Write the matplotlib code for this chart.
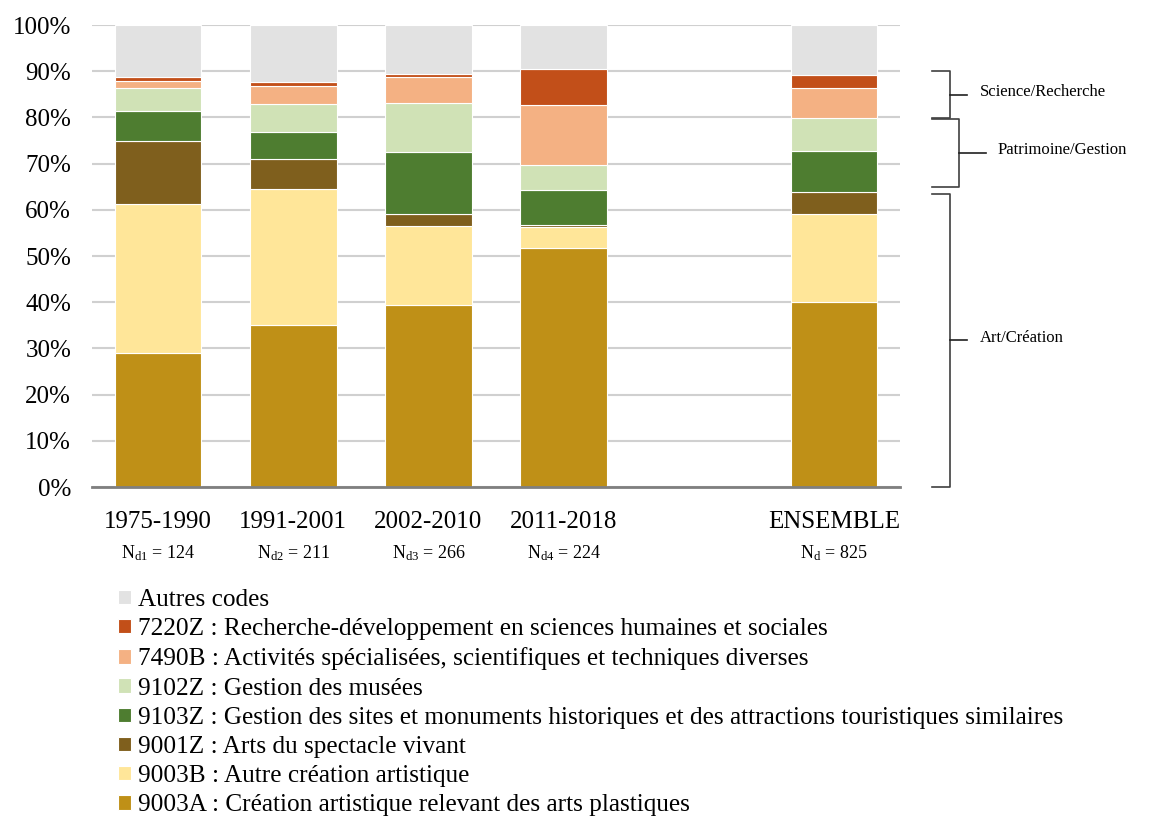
import matplotlib.pyplot as plt
import matplotlib.transforms as mtransforms
import numpy as np

plt.rcParams["font.family"] = ["Liberation Serif", "DejaVu Serif"]
plt.rcParams["mathtext.fontset"] = "stix"

# Periods and sample sizes
periods = ["1975-1990", "1991-2001", "2002-2010", "2011-2018", "ENSEMBLE"]
n_labels = [r"$\mathregular{N_{d1}}$ = 124", r"$\mathregular{N_{d2}}$ = 211",
            r"$\mathregular{N_{d3}}$ = 266", r"$\mathregular{N_{d4}}$ = 224",
            r"$\mathregular{N_{d}}$ = 825"]
positions = [0, 1, 2, 3, 5]

# Shares (%) per NAF code, bottom to top
codes = [
    "9003A : Création artistique relevant des arts plastiques",
    "9003B : Autre création artistique",
    "9001Z : Arts du spectacle vivant",
    "9103Z : Gestion des sites et monuments historiques et des attractions touristiques similaires",
    "9102Z : Gestion des musées",
    "7490B : Activités spécialisées, scientifiques et techniques diverses",
    "7220Z : Recherche-développement en sciences humaines et sociales",
    "Autres codes",
]
v_9003A = [29.0, 35.0, 39.4, 51.7, 40.0]
v_9003B = [32.3, 29.5, 17.0, 4.6, 19.1]
v_9001Z = [13.7, 6.6, 2.6, 0.4, 4.7]
v_9103Z = [6.4, 5.7, 13.6, 7.5, 8.9]
v_9102Z = [4.9, 6.2, 10.5, 5.4, 7.1]
v_7490B = [1.6, 3.8, 5.7, 13.0, 6.6]
v_7220Z = [0.8, 0.9, 0.6, 7.9, 2.8]
v_autres = [11.3, 12.3, 10.6, 9.5, 10.8]
series = [v_9003A, v_9003B, v_9001Z, v_9103Z, v_9102Z, v_7490B, v_7220Z, v_autres]
colors = ["#BF9017", "#FFE699", "#7F5F1D", "#4E7D30", "#D0E2B6",
          "#F4B183", "#C24F19", "#E2E2E2"]

# Groups shown with brackets on the right (range in %)
group_names = ["Science/Recherche", "Patrimoine/Gestion", "Art/Création"]
group_low = [79.9, 65.0, 0.0]
group_high = [90.0, 79.7, 63.5]

fig = plt.figure(figsize=(11.53, 8.18), dpi=100)
ax = fig.add_axes([0.0798, 0.4046, 0.7008, 0.5648])

bottom = np.zeros(len(periods))
handles = []
for vals, col, lab in zip(series, colors, codes):
    h = ax.bar(positions, vals, bottom=bottom, width=0.64, color=col,
               edgecolor="white", linewidth=0.8, label=lab, zorder=3)
    handles.append(h)
    bottom += np.array(vals)

ax.set_xlim(-0.49, 5.49)
ax.set_ylim(0, 100)
ax.set_yticks(np.arange(0, 101, 10))
ax.set_yticklabels([f"{t}%" for t in range(0, 101, 10)], fontsize=18)
ax.set_xticks(positions)
ax.set_xticklabels(periods, fontsize=18)
ax.tick_params(axis="both", length=0)
ax.tick_params(axis="y", pad=15)
ax.tick_params(axis="x", pad=17)
ax.yaxis.grid(True, color="#D0D0D0", linewidth=1.5, zorder=0)
ax.set_axisbelow(True)
for s in ["top", "right", "left"]:
    ax.spines[s].set_visible(False)
ax.spines["bottom"].set_color("#7F7F7F")
ax.spines["bottom"].set_linewidth(2)
ax.spines["bottom"].set_zorder(4)

# N labels under the period labels
trans = mtransforms.blended_transform_factory(ax.transData, ax.transAxes)
for p, lab in zip(positions, n_labels):
    ax.text(p, -0.143, lab, transform=trans, ha="center", va="center", fontsize=13)

# Brackets on the right
btrans = mtransforms.blended_transform_factory(fig.transFigure, ax.transData)
spine_x = [0.824, 0.832, 0.824]
tick_x = [0.839, 0.855, 0.839]
text_x = [0.850, 0.865, 0.850]
for name, y0, y1, xs, xt, xtxt in zip(group_names, group_low, group_high,
                                        spine_x, tick_x, text_x):
    ax.plot([0.808, xs, xs, 0.808], [y1, y1, y0, y0], transform=btrans,
            color="#404040", linewidth=1.2, clip_on=False)
    ym = (y0 + y1) / 2
    ax.plot([xs, xt], [ym, ym], transform=btrans, color="#202020",
            linewidth=1.2, clip_on=False)
    ax.text(xtxt, ym + 0.6, name, transform=btrans, ha="left", va="center",
            fontsize=12)

fig.legend(handles[::-1], codes[::-1], loc="upper left",
           bbox_to_anchor=(0.1025, 0.280), frameon=False, fontsize=18.2,
           handlelength=0.5, handleheight=0.5, handletextpad=0.3,
           labelspacing=0.285, borderpad=0, borderaxespad=0)

fig.savefig("out.png", dpi=100)
